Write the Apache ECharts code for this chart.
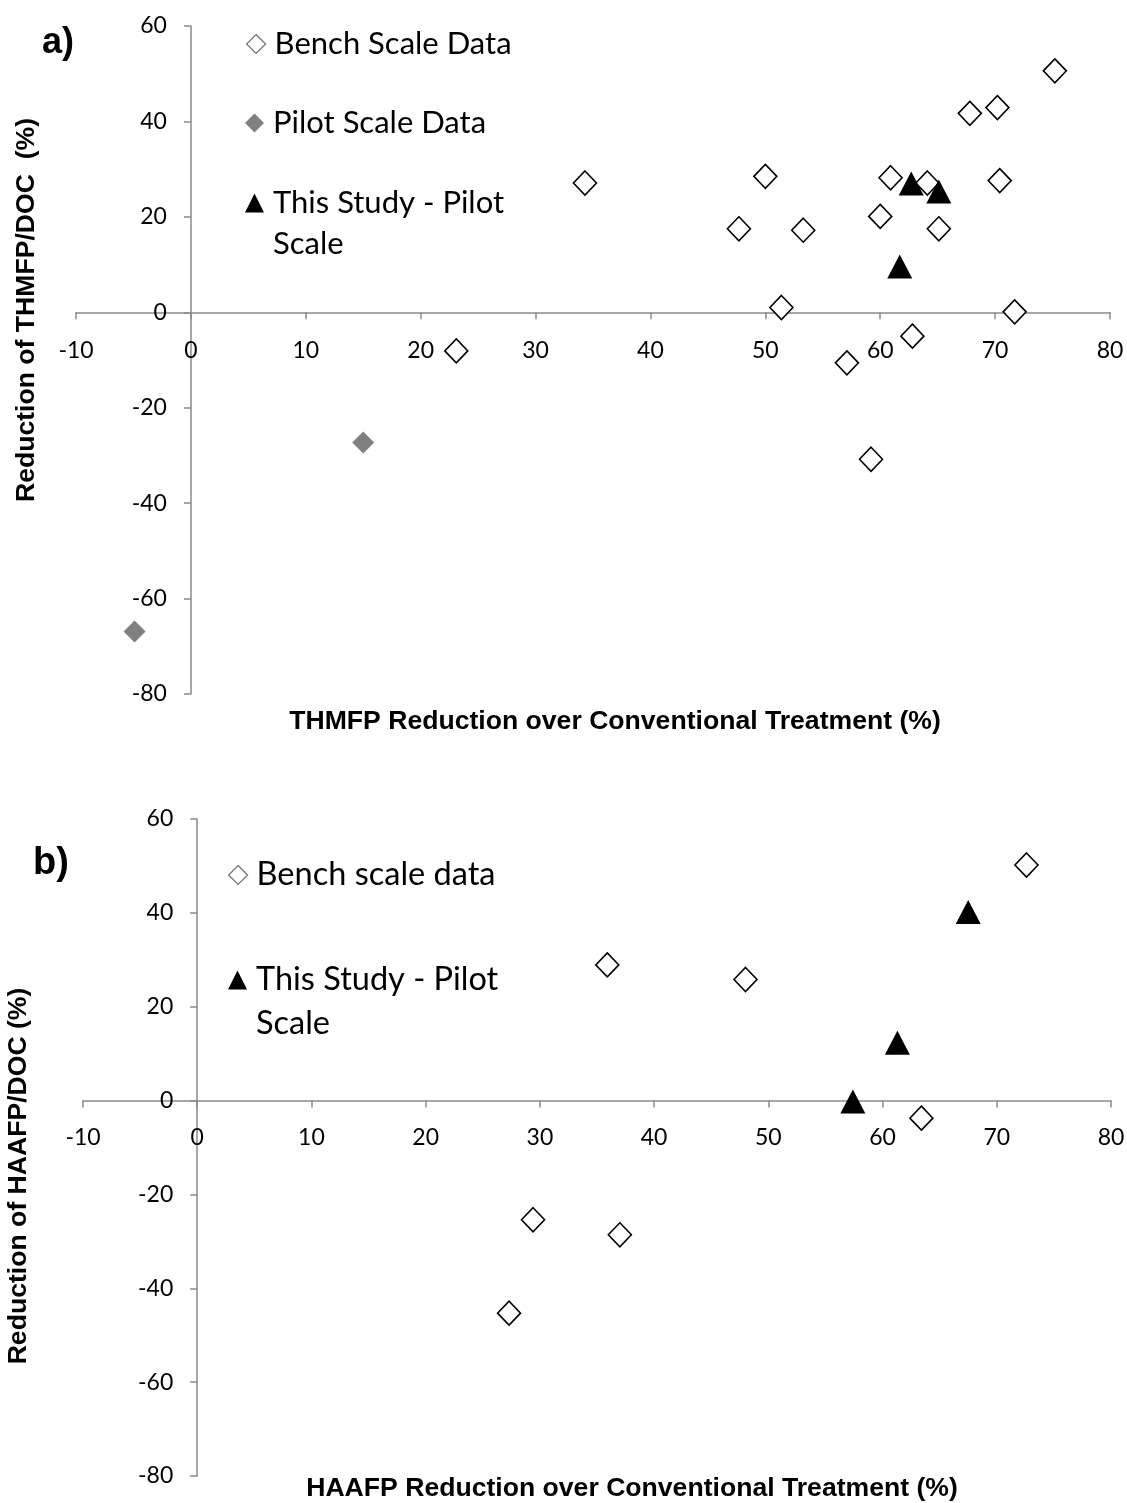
<!DOCTYPE html>
<html>
<head>
<meta charset="utf-8">
<script src="https://cdn.jsdelivr.net/npm/echarts@6/dist/echarts.min.js"></script>
<style>
  html, body { margin: 0; padding: 0; background: #fff; }
  #chart { width: 1127px; height: 1503px; }
</style>
</head>
<body>
<div id="chart"></div>
<script>
// Panel a) THMFP: reduction over conventional treatment vs reduction of THMFP/DOC (%)
const benchA_x = [23.1, 34.3, 47.7, 50.0, 53.3, 51.4, 57.1, 59.2, 60.0, 60.9, 62.8, 64.1, 65.1, 67.8, 70.2, 70.4, 71.7, 75.2];
const benchA_y = [-8.1, 27.1, 17.5, 28.5, 17.2, 1.0, -10.6, -30.8, 20.1, 28.2, -5.0, 27.1, 17.5, 41.7, 42.9, 27.6, 0.1, 50.6];
const pilotA_x = [15.0, -4.9];
const pilotA_y = [-27.3, -66.9];
const studyA_x = [62.7, 65.1, 61.7];
const studyA_y = [27.0, 25.3, 9.6];

// Panel b) HAAFP
const benchB_x = [27.3, 29.4, 37.0, 35.9, 48.0, 63.4, 72.6];
const benchB_y = [-45.3, -25.4, -28.6, 28.9, 25.8, -3.75, 50.2];
const studyB_x = [57.4, 61.3, 67.5];
const studyB_y = [-0.2, 12.3, 40.2];

// Axis ranges
const xMin = -10, xMax = 80, xStep = 10;
const yMin = -80, yMax = 60, yStep = 20;

const NAME_BENCH_A = 'Bench Scale Data';
const NAME_PILOT_A = 'Pilot Scale Data';
const NAME_STUDY = 'This Study - Pilot Scale';
const NAME_BENCH_B = 'Bench scale data';

const pairs = (xs, ys) => xs.map((x, i) => [x, ys[i]]);

const W = 1127;
const AXIS_GRAY = '#8a8a8a';
const LABEL_FONT = 'Lato';

const gridA = { left: 76, right: 17, top: 26, height: 668 };
const gridB = { left: 83, right: 16, top: 819, height: 657 };

// Axes cross at the origin: shift each axis from the grid edge to the zero line
function crossOffsets(g) {
  const width = W - g.left - g.right;
  return {
    y: -((0 - xMin) / (xMax - xMin)) * width,
    x: -((0 - yMin) / (yMax - yMin)) * g.height
  };
}

function xAxisCfg(gridIndex, g, margin) {
  return {
    type: 'value', gridIndex, min: xMin, max: xMax, interval: xStep,
    offset: crossOffsets(g).x,
    axisLine: { onZero: false, lineStyle: { color: AXIS_GRAY, width: 1.5 } },
    axisTick: { show: true, length: 7, lineStyle: { color: AXIS_GRAY, width: 1.5 } },
    axisLabel: { color: '#000', fontFamily: LABEL_FONT, fontSize: 23, margin },
    splitLine: { show: false }
  };
}
function yAxisCfg(gridIndex, g, margin) {
  return {
    type: 'value', gridIndex, min: yMin, max: yMax, interval: yStep,
    offset: crossOffsets(g).y,
    axisLine: { onZero: false, lineStyle: { color: AXIS_GRAY, width: 1.5 } },
    axisTick: { show: true, length: 7, lineStyle: { color: AXIS_GRAY, width: 1.5 } },
    axisLabel: { color: '#000', fontFamily: LABEL_FONT, fontSize: 23, margin },
    splitLine: { show: false }
  };
}

const benchStyle = { color: '#ffffff', borderColor: '#000000', borderWidth: 1.6, opacity: 1 };
const pilotStyle = { color: '#808080', opacity: 1 };
const studyStyle = { color: '#000000', opacity: 1 };

// One legend block per entry so each can sit at its own spot
function legendEntry(name, left, cy, fontSize, lineHeight, label, twoLine) {
  // a blank leading line keeps the marker level with the first printed line
  const text = twoLine ? ' \n' + label : label;
  const top = twoLine ? cy - 1.5 * lineHeight : cy - lineHeight / 2;
  return {
    data: [name],
    left, top,
    orient: 'vertical',
    padding: 0,
    itemWidth: 19, itemHeight: 19,
    selectedMode: false,
    formatter: () => text,
    textStyle: { color: '#000', fontFamily: LABEL_FONT, fontSize, lineHeight, padding: [0, 0, 0, 4] }
  };
}

const legends = [
  legendEntry(NAME_BENCH_A, 246, 44, 31, 36, 'Bench Scale Data', false),
  legendEntry(NAME_PILOT_A, 245, 123, 31, 36, 'Pilot Scale Data', false),
  legendEntry(NAME_STUDY, 245, 203, 31, 41, 'This Study - Pilot\nScale', true),
  legendEntry(NAME_BENCH_B, 228, 875, 32.5, 38, 'Bench scale data', false),
  legendEntry(NAME_STUDY, 228, 980, 32.5, 44, 'This Study - Pilot\nScale', true)
];
// legend marker outline for the open diamonds
legends[0].data = [{ name: NAME_BENCH_A, itemStyle: { borderColor: '#707070', borderWidth: 1.2 } }];
legends[3].data = [{ name: NAME_BENCH_B, itemStyle: { borderColor: '#707070', borderWidth: 1.2 } }];

const titleFont = 'bold 26.6px "Liberation Sans", Arial, sans-serif';

const option = {
  backgroundColor: '#ffffff',
  animation: false,
  grid: [
    Object.assign({ outerBoundsMode: 'none' }, gridA),
    Object.assign({ outerBoundsMode: 'none' }, gridB)
  ],
  xAxis: [xAxisCfg(0, gridA, 27), xAxisCfg(1, gridB, 26)],
  yAxis: [yAxisCfg(0, gridA, 24), yAxisCfg(1, gridB, 24)],
  legend: legends,
  series: [
    { name: NAME_BENCH_A, type: 'scatter', xAxisIndex: 0, yAxisIndex: 0, symbol: 'diamond', symbolSize: [23, 24], itemStyle: benchStyle, data: pairs(benchA_x, benchA_y), z: 2 },
    { name: NAME_PILOT_A, type: 'scatter', xAxisIndex: 0, yAxisIndex: 0, symbol: 'diamond', symbolSize: [22, 22], itemStyle: pilotStyle, data: pairs(pilotA_x, pilotA_y), z: 3 },
    { name: NAME_STUDY, type: 'scatter', xAxisIndex: 0, yAxisIndex: 0, symbol: 'triangle', symbolSize: [25, 24], itemStyle: studyStyle, data: pairs(studyA_x, studyA_y), z: 4 },
    { name: NAME_BENCH_B, type: 'scatter', xAxisIndex: 1, yAxisIndex: 1, symbol: 'diamond', symbolSize: [23, 24], itemStyle: benchStyle, data: pairs(benchB_x, benchB_y), z: 2 },
    { name: NAME_STUDY, type: 'scatter', xAxisIndex: 1, yAxisIndex: 1, symbol: 'triangle', symbolSize: [25, 24], itemStyle: studyStyle, data: pairs(studyB_x, studyB_y), z: 4 }
  ],
  graphic: [
    { type: 'text', x: 58, y: 43, style: { text: 'a)', font: 'bold 36px "Liberation Sans", Arial, sans-serif', fill: '#000', align: 'center', verticalAlign: 'middle' } },
    { type: 'text', x: 51, y: 864, style: { text: 'b)', font: 'bold 38px "Liberation Sans", Arial, sans-serif', fill: '#000', align: 'center', verticalAlign: 'middle' } },
    { type: 'text', x: 615, y: 722, style: { text: 'THMFP Reduction over Conventional Treatment (%)', font: titleFont, fill: '#000', align: 'center', verticalAlign: 'middle' } },
    { type: 'text', x: 632, y: 1489, style: { text: 'HAAFP Reduction over Conventional Treatment (%)', font: titleFont, fill: '#000', align: 'center', verticalAlign: 'middle' } },
    { type: 'text', x: 27, y: 310, rotation: Math.PI / 2, style: { text: 'Reduction of THMFP/DOC  (%)', font: titleFont, fill: '#000', align: 'center', verticalAlign: 'middle' } },
    { type: 'text', x: 19, y: 1176, rotation: Math.PI / 2, style: { text: 'Reduction of HAAFP/DOC (%)', font: titleFont, fill: '#000', align: 'center', verticalAlign: 'middle' } }
  ]
};

const chart = echarts.init(document.getElementById('chart'), null, { renderer: 'canvas' });
chart.setOption(option);
</script>
</body>
</html>
